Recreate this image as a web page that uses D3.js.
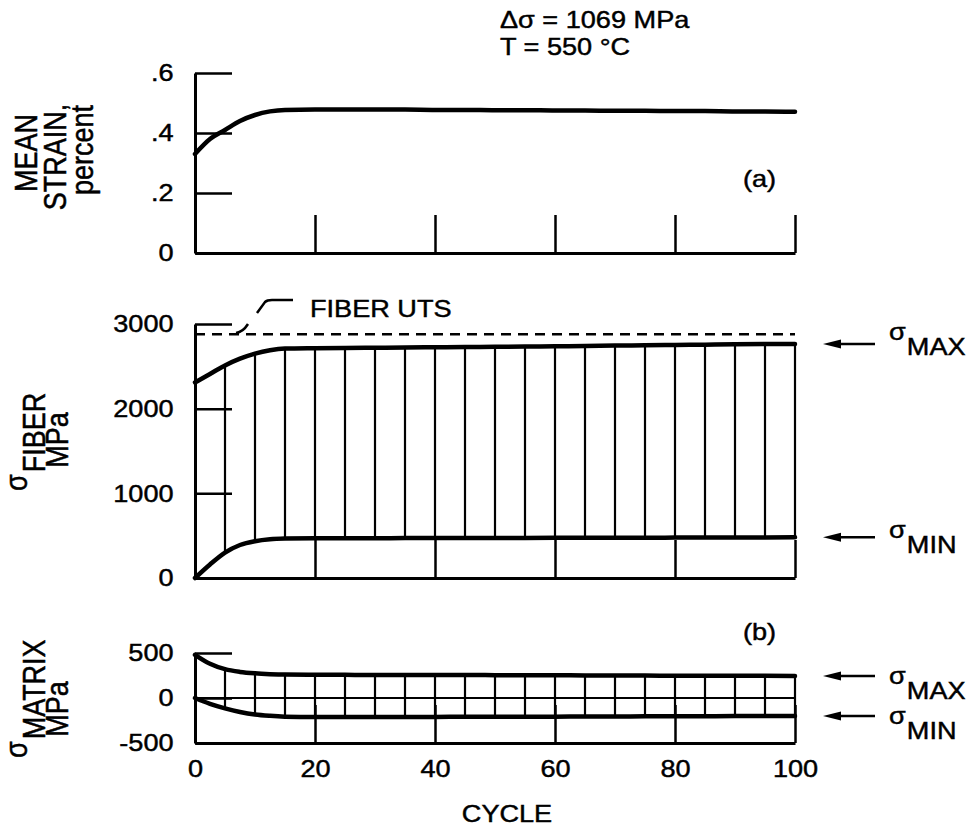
<!DOCTYPE html>
<html>

<head>
  <meta charset="utf-8">
  <title>Mean strain, fiber and matrix stress vs cycle</title>
  <script src="https://cdnjs.cloudflare.com/ajax/libs/d3/7.8.5/d3.min.js"></script>

  <style>
    body {
      margin: 0;
      background: #fff;
    }

    svg {
      display: block;
    }

    text {
      font-family: "Liberation Sans", Arial, Helvetica, sans-serif;
      fill: #000;
      /* scanned print is a little heavier than the plain font */
      stroke: #000;
      stroke-width: 0.45px;
    }
  </style>
</head>

<body>
  <script>
    // ---- data ----
    var cycles = [0, 2.5, 5, 7.5, 10, 12.5, 15, 20, 25, 30, 35, 40, 45, 50, 55, 60, 65, 70, 75, 80, 85, 90, 95, 100];
    var meanStrain = [0.33, 0.38, 0.41, 0.44, 0.46, 0.472, 0.477, 0.478, 0.478, 0.478, 0.478, 0.477, 0.477, 0.476,
      0.476, 0.475, 0.475, 0.474, 0.474, 0.473, 0.473, 0.472, 0.472, 0.471];
    var fiberMax = [2310, 2410, 2510, 2590, 2650, 2690, 2710, 2715, 2718, 2720, 2722, 2725, 2728, 2730,
      2733, 2737, 2740, 2745, 2748, 2752, 2756, 2760, 2763, 2765];
    var fiberMin = [0, 160, 300, 390, 435, 458, 466, 470, 470, 470, 471, 471, 472, 472,
      473, 474, 475, 476, 476, 477, 478, 479, 479, 480];
    var fiberUTS = 2880;
    var matrixMax = [480, 380, 320, 290, 274, 265, 260, 258, 257, 256, 256, 255, 255, 254,
      253, 252, 251, 250, 249, 248, 247, 246, 246, 245];
    var matrixMin = [0, -65, -115, -155, -183, -198, -207, -212, -212, -211, -211, -210, -209, -208,
      -208, -207, -206, -205, -204, -203, -202, -201, -201, -200];

    var xTicks = [0, 20, 40, 60, 80, 100];
    var strainTicks = [0, 0.2, 0.4, 0.6];
    var fiberTicks = [0, 1000, 2000, 3000];
    var matrixTicks = [-500, 0, 500];

    // the scanned figure is stretched sideways, so text gets widened a bit
    var SX = 1.13;

    var svg = d3.select("body").append("svg")
      .attr("width", 974)
      .attr("height", 828);

    var x = d3.scaleLinear().domain([0, 100]).range([195, 795]);
    var yStrain = d3.scaleLinear().domain([0, 0.6]).range([253, 73]);
    var yFiber = d3.scaleLinear().domain([0, 3000]).range([578, 324]);
    var yMatrix = d3.scaleLinear().domain([-500, 500]).range([743, 653]);

    //--------------------------------

    function axes(y, ticks, fmt, xLabels) {
      var left = svg.append("g")
        .attr("transform", "translate(" + x(0) + ",0)")
        .call(d3.axisLeft(y).tickValues(ticks).tickSizeInner(-37).tickSizeOuter(0)
          .tickPadding(19).tickFormat(fmt));
      var bottom = svg.append("g")
        .attr("transform", "translate(0," + y.range()[0] + ")")
        .call(d3.axisBottom(x).tickValues(xTicks).tickSizeInner(-38).tickSizeOuter(0)
          .tickPadding(17).tickFormat(xLabels ? d3.format("d") : ""));
      [left, bottom].forEach(function (g) {
        g.attr("font-size", 24);
        g.select(".domain").attr("stroke-width", 3);
        g.selectAll(".tick line").attr("stroke-width", 2.5);
        g.selectAll(".tick text").attr("transform", "scale(" + SX + ",1)");
      });
    }

    function curve(y, values) {
      var line = d3.line()
        .x(function (d, i) { return x(cycles[i]); })
        .y(function (d) { return y(d); })
        .curve(d3.curveMonotoneX);
      svg.append("path")
        .datum(values)
        .attr("d", line)
        .attr("fill", "none")
        .attr("stroke", "#000")
        .attr("stroke-width", 4.5)
        .attr("stroke-linecap", "round");
    }

    function cycleBars(y, hi, lo) {
      var idx = d3.range(cycles.length).filter(function (i) {
        return cycles[i] > 0 && cycles[i] % 5 === 0;
      });
      svg.append("g").selectAll("line").data(idx).enter().append("line")
        .attr("x1", function (i) { return x(cycles[i]); })
        .attr("x2", function (i) { return x(cycles[i]); })
        .attr("y1", function (i) { return y(hi[i]); })
        .attr("y2", function (i) { return y(lo[i]); })
        .attr("stroke", "#000")
        .attr("stroke-width", 2.2);
    }

    function hText(px, py, str, size, anchor) {
      return svg.append("g")
        .attr("transform", "translate(" + px + "," + py + ") scale(" + SX + ",1)")
        .append("text")
        .attr("font-size", size)
        .attr("text-anchor", anchor || "start")
        .text(str);
    }

    function vText(px, py, size, anchor) {
      return svg.append("text")
        .attr("transform", "translate(" + px + "," + py + ") scale(" + SX + ",1) rotate(-90)")
        .attr("font-size", size)
        .attr("text-anchor", anchor || "middle");
    }

    function sigmaLabel(y, sub, off) {
      // arrow pointing at the curve end
      svg.append("line")
        .attr("x1", 836).attr("x2", 875)
        .attr("y1", y).attr("y2", y)
        .attr("stroke", "#000").attr("stroke-width", 2.5);
      svg.append("path")
        .attr("d", "M823," + y + "L841," + (y - 4.5) + "L841," + (y + 4.5) + "Z")
        .attr("fill", "#000");
      var t = hText(889, y + off, "σ", 24);
      t.append("tspan").attr("dx", 1).attr("dy", 15).text(sub);
    }

    // ---- (a) mean strain ----
    axes(yStrain, strainTicks, function (d) {
      return d === 0 ? "0" : d3.format(".1f")(d).replace(/^0/, "");
    }, false);
    curve(yStrain, meanStrain);

    // ---- fiber stress ----
    axes(yFiber, fiberTicks, d3.format("d"), false);
    svg.append("line")
      .attr("x1", x(0)).attr("x2", x(100))
      .attr("y1", yFiber(fiberUTS)).attr("y2", yFiber(fiberUTS))
      .attr("stroke", "#000").attr("stroke-width", 2.5)
      .attr("stroke-dasharray", "10,7");
    cycleBars(yFiber, fiberMax, fiberMin);
    curve(yFiber, fiberMax);
    curve(yFiber, fiberMin);

    // leader from the UTS label to the dashed line
    svg.append("path")
      .attr("d", "M236,333Q243,332 248,324M257,313L265,302Q267,300 272,300L293,300")
      .attr("fill", "none").attr("stroke", "#000").attr("stroke-width", 2.5);
    hText(310, 317, "FIBER UTS", 24);

    // ---- (b) matrix stress ----
    axes(yMatrix, matrixTicks, function (d) { return String(d); }, true);
    svg.append("line")
      .attr("x1", x(0)).attr("x2", x(100))
      .attr("y1", yMatrix(0)).attr("y2", yMatrix(0))
      .attr("stroke", "#000").attr("stroke-width", 2);
    cycleBars(yMatrix, matrixMax, matrixMin);
    curve(yMatrix, matrixMax);
    curve(yMatrix, matrixMin);

    // ---- right hand labels ----
    var last = cycles.length - 1;
    sigmaLabel(yFiber(fiberMax[last]), "MAX", -4);
    sigmaLabel(yFiber(fiberMin[last]), "MIN", 1);
    sigmaLabel(yMatrix(matrixMax[last]), "MAX", 8);
    sigmaLabel(yMatrix(matrixMin[last]), "MIN", 8);

    // ---- annotations ----
    hText(500, 28, "Δσ = 1069 MPa", 24);
    hText(500, 55, "T = 550 °C", 24);
    hText(743, 187, "(a)", 24);
    hText(743, 640, "(b)", 24);
    hText(507, 822, "CYCLE", 24, "middle");

    // ---- rotated axis titles ----
    vText(37, 153, 27).text("MEAN");
    vText(66, 157, 27).text("STRAIN,");
    vText(93, 150, 27).text("percent");

    var f = vText(27, 491, 27, "start");
    f.append("tspan").text("σ");
    f.append("tspan").attr("dx", 2).attr("dy", 16).text("FIBER");
    vText(68, 440, 27).text("MPa");

    var m = vText(27, 758, 27, "start");
    m.append("tspan").text("σ");
    m.append("tspan").attr("dx", 2).attr("dy", 16).text("MATRIX");
    vText(68, 709, 27).text("MPa");
  </script>
</body>

</html>
